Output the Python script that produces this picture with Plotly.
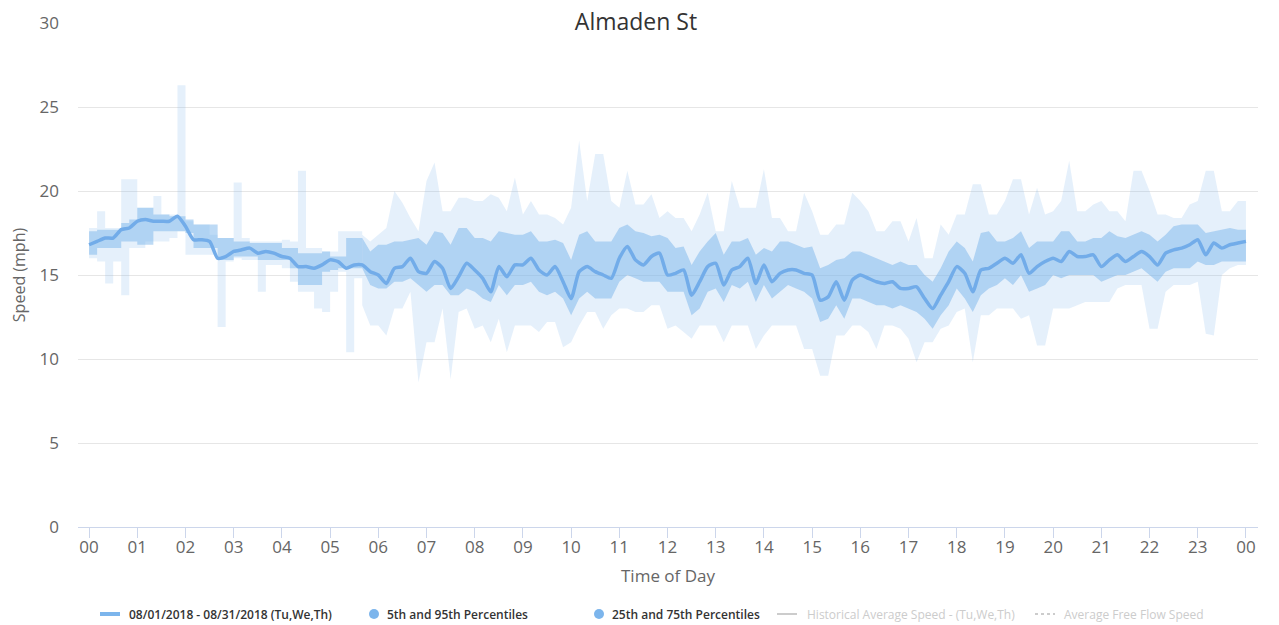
import plotly.graph_objects as go

# time axis in hours, 10-minute steps
hours = [i / 6 for i in range(145)]

mean_speed = [
    16.8, 17.0, 17.2, 17.2, 17.7, 17.8,
    18.2, 18.3, 18.2, 18.2, 18.2, 18.5,
    17.9, 17.1, 17.1, 17.0, 16.0, 16.1,
    16.4, 16.5, 16.6, 16.3, 16.4, 16.3,
    16.1, 16.0, 15.5, 15.5, 15.4, 15.6,
    15.9, 15.8, 15.4, 15.6, 15.6, 15.2,
    15.0, 14.5, 15.4, 15.5, 16.0, 15.2,
    15.1, 15.8, 15.4, 14.2, 14.9, 15.7,
    15.3, 14.8, 14.0, 15.5, 14.9, 15.6,
    15.6, 16.0, 15.3, 15.0, 15.5, 14.6,
    13.6, 15.2, 15.5, 15.2, 15.0, 14.8,
    16.0, 16.7, 15.9, 15.6, 16.1, 16.3,
    15.0, 15.1, 15.3, 13.8, 14.6, 15.5,
    15.7, 14.4, 15.3, 15.5, 16.0, 14.5,
    15.6, 14.6, 15.1, 15.3, 15.3, 15.1,
    15.0, 13.5, 13.7, 14.6, 13.5, 14.7,
    15.0, 14.8, 14.6, 14.5, 14.6, 14.2,
    14.2, 14.3, 13.6, 13.0, 13.8, 14.6,
    15.5, 15.1, 14.0, 15.3, 15.4, 15.7,
    16.0, 15.7, 16.2, 15.1, 15.5, 15.8,
    16.0, 15.8, 16.4, 16.1, 16.1, 16.2,
    15.5, 15.9, 16.2, 15.8, 16.1, 16.4,
    16.1, 15.6, 16.3, 16.5, 16.6, 16.8,
    17.1, 16.2, 16.9, 16.6, 16.8, 16.9,
    17.0,
]

p75 = [
    17.6, 17.7, 17.7, 17.7, 18.1, 18.3,
    19.0, 19.0, 18.6, 18.6, 18.5, 18.5,
    18.3, 18.0, 18.0, 18.0, 17.2, 17.2,
    17.0, 17.0, 16.9, 16.9, 16.9, 16.9,
    16.6, 16.6, 16.3, 16.3, 16.3, 16.4,
    16.1, 16.1, 17.2, 17.2, 17.2, 16.4,
    16.8, 16.8, 17.0, 17.0, 17.1, 17.2,
    16.8, 17.6, 17.5, 16.8, 17.8, 17.8,
    17.2, 17.2, 17.0, 17.6, 17.5, 17.4,
    17.4, 17.6, 17.0, 17.0, 17.1, 16.9,
    15.9, 17.4, 17.6, 17.0, 17.0, 17.0,
    17.8, 18.0, 17.6, 17.5, 17.3, 17.4,
    17.2, 16.6, 16.7, 15.6, 16.4, 17.0,
    17.5, 16.2, 17.0, 17.0, 17.2, 16.2,
    16.6, 16.4, 17.0, 17.0, 16.8, 16.6,
    16.7, 15.4, 15.6, 15.9, 16.0, 16.4,
    16.4, 16.2, 16.0, 15.8, 15.6, 15.8,
    15.6, 15.6, 15.0, 14.6, 15.4, 16.4,
    17.0, 16.6, 15.8, 17.5, 17.6, 17.0,
    17.0, 17.2, 17.6, 16.6, 17.0, 17.0,
    17.0, 17.6, 17.6, 17.0, 17.0, 17.2,
    17.2, 17.6, 17.3, 17.2, 17.4, 17.6,
    17.4, 17.0, 17.4, 17.9, 18.0, 18.0,
    18.0, 17.5, 17.6, 17.7, 17.8, 17.7,
    17.7,
]

p25 = [
    16.2, 16.6, 16.6, 16.6, 17.0, 17.0,
    16.8, 16.8, 17.6, 17.6, 17.6, 17.6,
    17.5, 16.6, 16.6, 16.6, 15.9, 15.9,
    16.1, 16.1, 16.1, 15.9, 15.9, 15.9,
    15.9, 15.4, 14.4, 14.4, 14.4, 15.2,
    15.3, 15.4, 15.4, 15.4, 15.4, 14.4,
    14.2, 14.2, 14.6, 14.6, 14.8, 14.4,
    14.0, 14.4, 14.4, 13.8, 13.8, 14.2,
    14.0, 13.6, 13.4, 14.4, 13.8, 14.4,
    14.4, 14.6, 14.0, 13.8, 14.0, 13.6,
    12.6, 13.6, 14.0, 13.6, 13.6, 13.6,
    14.6, 15.0, 14.8, 14.6, 14.6, 14.6,
    14.0, 14.0, 14.0, 12.6, 13.0, 14.0,
    14.2, 13.4, 14.4, 14.2, 14.6, 13.4,
    14.4, 13.6, 14.0, 14.4, 14.2, 14.0,
    13.6, 12.2, 12.4, 13.2, 12.4, 13.6,
    13.6, 13.4, 13.2, 13.2, 13.0, 13.2,
    13.0, 12.8, 12.4, 11.8, 12.6, 13.2,
    14.2, 13.6, 12.8, 13.8, 14.2, 14.4,
    14.8, 14.4, 15.0, 14.0, 14.2, 14.4,
    15.0, 14.8, 15.0, 15.0, 15.0, 15.0,
    14.6, 14.8, 15.0, 15.0, 15.2, 15.4,
    15.0, 14.6, 15.2, 15.4, 15.4, 15.4,
    15.8, 15.6, 15.6, 15.8, 15.8, 15.8,
    15.8,
]

p95 = [
    17.8, 18.8, 17.8, 17.8, 20.7, 20.7,
    19.0, 19.0, 19.7, 18.6, 18.6, 26.3,
    18.2, 18.0, 18.0, 17.4, 17.2, 17.2,
    20.5, 17.2, 17.0, 17.0, 17.0, 17.0,
    17.1, 17.0, 21.2, 16.6, 16.6, 16.4,
    16.4, 17.6, 17.6, 17.6, 17.4, 17.0,
    17.4, 17.8, 20.0, 19.3, 18.4, 17.6,
    20.6, 21.7, 18.8, 18.8, 19.6, 19.6,
    19.4, 19.4, 19.8, 19.6, 18.8, 20.8,
    18.6, 19.4, 18.6, 18.6, 18.4, 18.0,
    19.0, 23.0, 19.4, 22.2, 22.2, 19.4,
    19.0, 21.2, 19.2, 19.2, 19.8, 18.4,
    18.8, 18.4, 18.4, 17.6, 18.6, 19.9,
    17.6, 17.6, 20.6, 19.0, 19.0, 19.0,
    21.3, 18.4, 18.4, 17.6, 17.6, 19.9,
    18.8, 17.4, 17.4, 18.0, 18.0, 19.9,
    19.4, 18.8, 17.6, 17.6, 18.2, 18.2,
    17.0, 18.4, 16.0, 16.0, 18.0, 17.4,
    18.6, 18.6, 20.4, 20.4, 18.6, 18.6,
    19.4, 20.7, 20.7, 18.6, 20.2, 18.6,
    18.8, 19.4, 21.8, 18.8, 18.8, 19.2,
    19.4, 18.8, 18.8, 18.2, 21.2, 21.2,
    20.0, 18.6, 18.6, 18.4, 18.4, 19.2,
    19.4, 21.2, 21.2, 18.8, 18.8, 19.4,
    19.4,
]

p5 = [
    16.0, 15.8, 14.5, 15.8, 13.8, 16.6,
    16.6, 17.0, 17.0, 17.0, 17.2, 17.6,
    16.2, 16.2, 16.2, 16.2, 11.9, 15.8,
    16.0, 15.9, 15.9, 14.0, 15.6, 15.6,
    15.4, 14.6, 14.0, 14.0, 13.0, 12.8,
    14.0, 15.2, 10.4, 14.8, 13.2, 12.0,
    12.0, 11.4, 13.0, 13.0, 14.0, 8.6,
    11.0, 11.0, 13.0, 8.8, 12.8, 13.0,
    11.8, 12.0, 11.0, 12.4, 10.4, 12.0,
    12.0, 12.0, 11.6, 12.2, 12.2, 10.7,
    11.0, 12.0, 12.8, 12.8, 11.8, 12.6,
    13.0, 13.0, 12.8, 12.8, 13.2, 13.2,
    11.8, 12.0, 11.6, 11.2, 12.0, 12.0,
    12.0, 11.0, 12.0, 12.0, 12.0, 10.6,
    11.4, 12.0, 12.0, 12.0, 12.0, 10.6,
    10.6, 9.0, 9.0, 11.4, 11.4, 12.0,
    12.0, 11.6, 10.6, 12.0, 12.0, 11.8,
    11.2, 9.8, 11.0, 11.0, 11.8, 12.0,
    12.8, 13.0, 9.8, 12.6, 12.6, 13.0,
    13.0, 13.0, 12.4, 12.6, 10.8, 10.8,
    13.0, 13.0, 13.0, 13.2, 13.4, 13.4,
    13.4, 13.4, 14.2, 14.4, 14.4, 14.4,
    11.8, 11.8, 14.0, 14.4, 14.4, 14.4,
    14.6, 11.5, 11.4, 15.0, 15.4, 15.6,
    15.6,
]

tick_vals = list(range(25))
tick_text = [f"{h % 24:02d}" for h in range(25)]

legend_labels = [
    "08/01/2018 - 08/31/2018 (Tu,We,Th)",
    "5th and 95th Percentiles",
    "25th and 75th Percentiles",
    "Historical Average Speed - (Tu,We,Th)",
    "Average Free Flow Speed",
]

BLUE = "#7cb5ec"
HIDDEN = "#cccccc"
NIGHT_END = 34  # index where stepped (sparse overnight) data ends, 5:40

# figure geometry (page body has an 8px margin)
W, H = 1271, 617
ML, MR, MT, MB = 70, 21, 15, 98
PW, PH = W - ML - MR, H - MT - MB


def px(xpix):  # page x -> paper x
    return (xpix - 8 - ML) / PW


def py(ypix):  # page y -> paper y
    return (H - MB - (ypix - 8)) / PH


fig = go.Figure()


def add_band(lo, hi, color):
    # overnight part stepped, daytime part linear
    for sl, shape in ((slice(0, NIGHT_END + 1), "hv"), (slice(NIGHT_END, None), "linear")):
        fig.add_trace(go.Scatter(x=hours[sl], y=lo[sl], mode="lines",
                                 line=dict(width=0, shape=shape),
                                 showlegend=False, hoverinfo="skip"))
        fig.add_trace(go.Scatter(x=hours[sl], y=hi[sl], mode="lines",
                                 line=dict(width=0, shape=shape),
                                 fill="tonexty", fillcolor=color,
                                 showlegend=False, hoverinfo="skip"))


add_band(p5, p95, "rgba(124,181,236,0.2)")
add_band(p25, p75, "rgba(124,181,236,0.5)")

fig.add_trace(go.Scatter(x=hours, y=mean_speed, mode="lines",
                         line=dict(color="#72ace9", width=3.5, shape="spline", smoothing=0.6),
                         name=legend_labels[0], showlegend=False))

FONT = "Open Sans, Noto Sans, sans-serif"

# manual legend
leg_y = py(614)
shapes = [
    dict(type="line", xref="paper", yref="paper", x0=px(100), x1=px(120), y0=leg_y, y1=leg_y,
         line=dict(color=BLUE, width=4)),
    dict(type="circle", xref="paper", yref="paper", x0=px(369), x1=px(379),
         y0=py(619), y1=py(609), fillcolor=BLUE, line=dict(width=0)),
    dict(type="circle", xref="paper", yref="paper", x0=px(594), x1=px(604),
         y0=py(619), y1=py(609), fillcolor=BLUE, line=dict(width=0)),
    dict(type="line", xref="paper", yref="paper", x0=px(777), x1=px(797), y0=leg_y, y1=leg_y,
         line=dict(color=HIDDEN, width=2)),
    dict(type="line", xref="paper", yref="paper", x0=px(1035), x1=px(1055), y0=leg_y, y1=leg_y,
         line=dict(color=HIDDEN, width=2, dash="dot")),
]
text_x = [127, 385, 610, 805, 1062]
text_col = ["#333333", "#333333", "#333333", HIDDEN, HIDDEN]
text_wt = [600, 600, 600, 400, 400]
annotations = [
    dict(text=lab, x=px(tx), y=leg_y, xref="paper", yref="paper", xanchor="left",
         yanchor="middle", showarrow=False,
         font=dict(size=12, color=col, family=FONT, weight=wt))
    for lab, tx, col, wt in zip(legend_labels, text_x, text_col, text_wt)
]

fig.update_layout(
    width=W, height=H,
    margin=dict(l=ML, r=MR, t=MT, b=MB),
    paper_bgcolor="white", plot_bgcolor="white",
    font=dict(family=FONT, color="#666666"),
    title=dict(text="Almaden St", x=628 / W, xref="container", xanchor="center",
               y=1 - 14 / H, yref="container", yanchor="middle",
               font=dict(size=23, color="#333333", family=FONT)),
    xaxis=dict(range=[-0.23, 24.25], tickvals=tick_vals, ticktext=tick_text,
               showgrid=False, zeroline=False, showline=True, linecolor="#ccd6eb",
               linewidth=1, ticks="outside", ticklen=10, tickcolor="#ccd6eb",
               automargin=False, ticklabelstandoff=-5,
               tickfont=dict(size=17, color="#666666"),
               title=dict(text="Time of Day", font=dict(size=17, color="#666666"), standoff=12)),
    yaxis=dict(range=[0, 30], tickvals=[0, 5, 10, 15, 20, 25, 30], showgrid=True,
               gridcolor="#e6e6e6", zeroline=False, showline=False, automargin=False,
               tickfont=dict(size=17, color="#666666"), ticklabelstandoff=18,
               title=dict(text="Speed (mph)", font=dict(size=16, color="#666666"), standoff=13)),
    shapes=shapes,
    annotations=annotations,
    showlegend=False,
)

fig.write_html("out.html")
